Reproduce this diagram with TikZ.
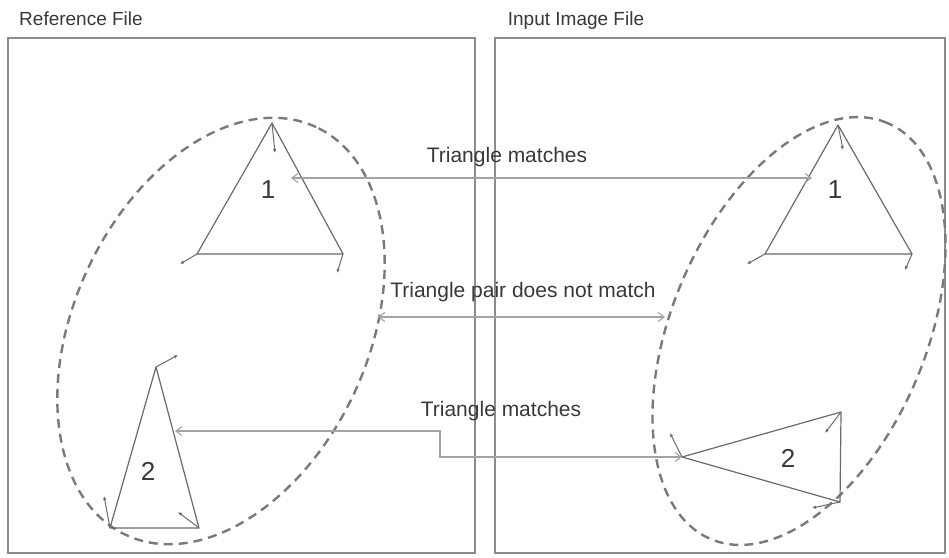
\documentclass[tikz,border=0pt]{standalone}
\usepackage{fontspec}
\setmainfont{Liberation Sans}
\usetikzlibrary{arrows.meta}
\definecolor{edgegray}{HTML}{6A6A6A}
\definecolor{linkgray}{HTML}{A3A3A3}
\definecolor{ringgray}{HTML}{7A7A7A}
\definecolor{framegray}{HTML}{8C8C8C}
\definecolor{textgray}{HTML}{383838}

\begin{document}
\begin{tikzpicture}[x=1pt, y=-1pt,
    frame/.style={draw=framegray, line width=1.3pt},
    ring/.style={draw=ringgray, line width=2.4pt, dash pattern=on 9pt off 6pt},
    edge/.style={draw=edgegray, line width=1.2pt, line join=round},
    stub/.style={draw=edgegray, line width=1pt, -{Latex[length=4pt,width=3.5pt]}},
    link/.style={draw=linkgray, line width=1.1pt, {Straight Barb[length=6pt,width=9pt]}-{Straight Barb[length=6pt,width=9pt]}},
    title/.style={font=\fontsize{19}{22}\selectfont, text=textgray, anchor=base},
    caption/.style={font=\fontsize{21}{25}\selectfont, text=textgray, anchor=base},
    tag/.style={font=\fontsize{26}{30}\selectfont, text=textgray, anchor=base}]

    \useasboundingbox (0,0) rectangle (949,557);

    % Two panels with their headings
    \draw[frame] (8,38) rectangle (475,553);
    \draw[frame] (495,38) rectangle (945,553);
    \node[title] (reftitle) at (81,25) {Reference File};
    \node[title] (inptitle) at (576,25) {Input Image File};

    % Dashed groups around each triangle pair
    \coordinate (lc) at (221,331);
    \coordinate (rc) at (799,331);
    \draw[ring, rotate around={65:(lc)}] (lc) ellipse [x radius=225pt, y radius=147pt];
    \draw[ring, rotate around={67:(rc)}] (rc) ellipse [x radius=226pt, y radius=127pt];

    % Triangle vertices
    \coordinate (L1t) at (272,123);   % left 1
    \coordinate (L1l) at (197,254);
    \coordinate (L1r) at (343,254);
    \coordinate (R1t) at (838,125);   % right 1
    \coordinate (R1l) at (765,254);
    \coordinate (R1r) at (912,254);
    \coordinate (L2t) at (156,367);   % left 2
    \coordinate (L2l) at (110,528);
    \coordinate (L2r) at (199,528);
    \coordinate (R2l) at (682,457);   % right 2
    \coordinate (R2t) at (841,412);
    \coordinate (R2b) at (840,502);

    % Triangles
    \draw[edge] (L1t) -- (L1l) -- (L1r) -- cycle;
    \draw[edge] (R1t) -- (R1l) -- (R1r) -- cycle;
    \draw[edge] (L2t) -- (L2l) -- (L2r) -- cycle;
    \draw[edge] (R2l) -- (R2t) -- (R2b) -- cycle;

    % Direction stubs on the vertices
    \draw[stub] (L1t) -- (275,153);
    \draw[stub] (L1l) -- (180,264);
    \draw[stub] (L1r) -- (337,273);
    \draw[stub] (R1t) -- (843,150);
    \draw[stub] (R1l) -- (747,264);
    \draw[stub] (R1r) -- (905,270);
    \draw[stub] (L2t) -- (178,355);
    \draw[stub] (L2l) -- (104,496);
    \draw[stub] (L2r) -- (178,512);
    \draw[stub] (R2l) -- (670,433);
    \draw[stub] (R2t) -- (825,433);
    \draw[stub] (R2b) -- (812,508);

    % Triangle numbers
    \node[tag] (n1l) at (268,198) {1};
    \node[tag] (n1r) at (835,198) {1};
    \node[tag] (n2l) at (148,480) {2};
    \node[tag] (n2r) at (788,467) {2};

    % Connector ends
    \coordinate (m1a) at (291,178);
    \coordinate (m1b) at (812,178);
    \coordinate (pa) at (378,317);
    \coordinate (pb) at (665,317);
    \coordinate (m2a) at (175,431);
    \coordinate (bend) at (440,0);

    % Matches and mismatch
    \draw[link] (m1a) -- (m1b);
    \draw[link] (pa) -- (pb);
    \draw[link] (m2a) -- (m2a -| bend) |- (R2l);

    \node[caption] (cap1) at (507,162) {Triangle matches};
    \node[caption] (cap2) at (523,297) {Triangle pair does not match};
    \node[caption] (cap3) at (501,416) {Triangle matches};
\end{tikzpicture}
\end{document}
